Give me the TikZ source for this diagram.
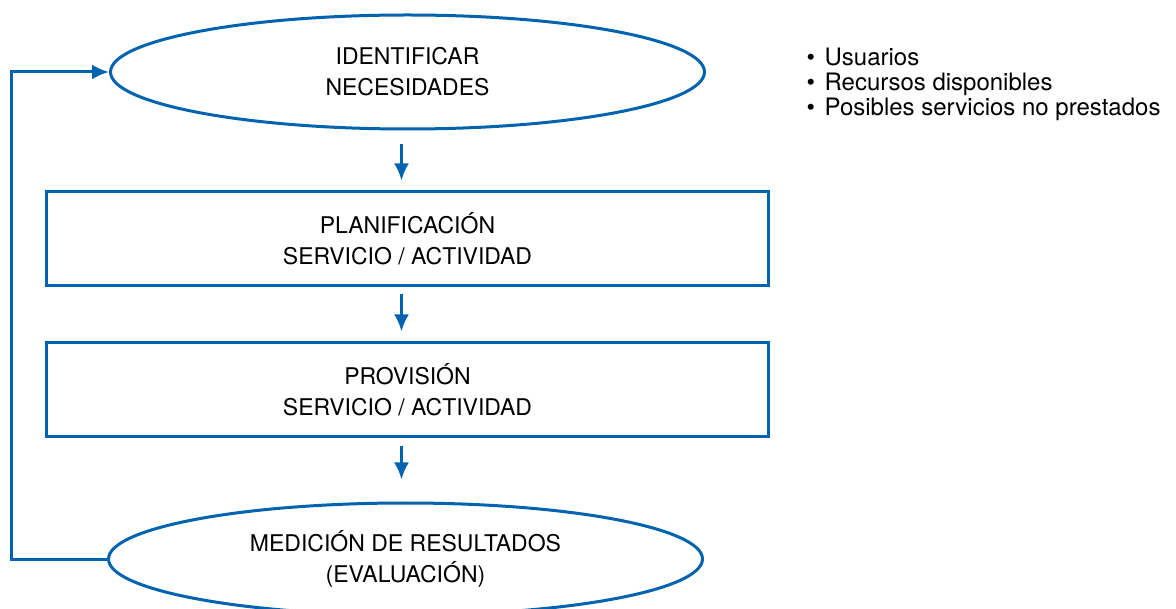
\documentclass[tikz,border=0pt]{standalone}
\usepackage{fontspec}
\setmainfont{TeX Gyre Heros}
\usetikzlibrary{arrows.meta,shapes.geometric}
\definecolor{flowblue}{RGB}{0,99,175}

\begin{document}
\begin{tikzpicture}[x=1pt,y=-1pt,
    every node/.style={font=\fontsize{23}{31}\selectfont,align=center},
    phase/.style={ellipse,draw=flowblue,line width=3pt,inner sep=0pt,
      minimum width=594pt,minimum height=114pt},
    stage/.style={rectangle,draw=flowblue,line width=3pt,inner sep=0pt,
      minimum width=722pt,minimum height=94pt},
    flow/.style={draw=flowblue,line width=3pt,-{Latex[length=17pt,width=15pt]}}]
  \useasboundingbox (0,0) rectangle (1176,609);

  % Cycle steps
  \node[phase] (ident) at (407.5,72) {IDENTIFICAR\\NECESIDADES};
  \node[stage] (plan) at (407.5,239) {PLANIFICACIÓN\\SERVICIO / ACTIVIDAD};
  \node[stage] (prov) at (407.5,390) {PROVISIÓN\\SERVICIO / ACTIVIDAD};
  \node[phase,minimum height=112pt] (eval) at (405.5,559) {MEDICIÓN DE RESULTADOS\\(EVALUACIÓN)};

  % Needs list
  \node[anchor=north west,align=left,font=\fontsize{24}{25}\selectfont] (needs) at (803,44)
    {•\hspace{3pt} Usuarios\\•\hspace{3pt} Recursos disponibles\\•\hspace{3pt} Posibles servicios no prestados};

  % Downward flow
  \draw[flow,shorten <=14pt,shorten >=10pt] ([xshift=-6pt]ident.south) -- ([xshift=-6pt]plan.north);
  \draw[flow,shorten <=7pt,shorten >=10pt] ([xshift=-6pt]plan.south) -- ([xshift=-6pt]prov.north);
  \draw[flow,shorten <=8pt,shorten >=22pt] ([xshift=-6pt]prov.south) -- ([xshift=-4pt]eval.north);

  % Feedback loop
  \draw[flow] (eval.west) -- ++(-96,0) |- (ident.west);

\end{tikzpicture}
\end{document}
